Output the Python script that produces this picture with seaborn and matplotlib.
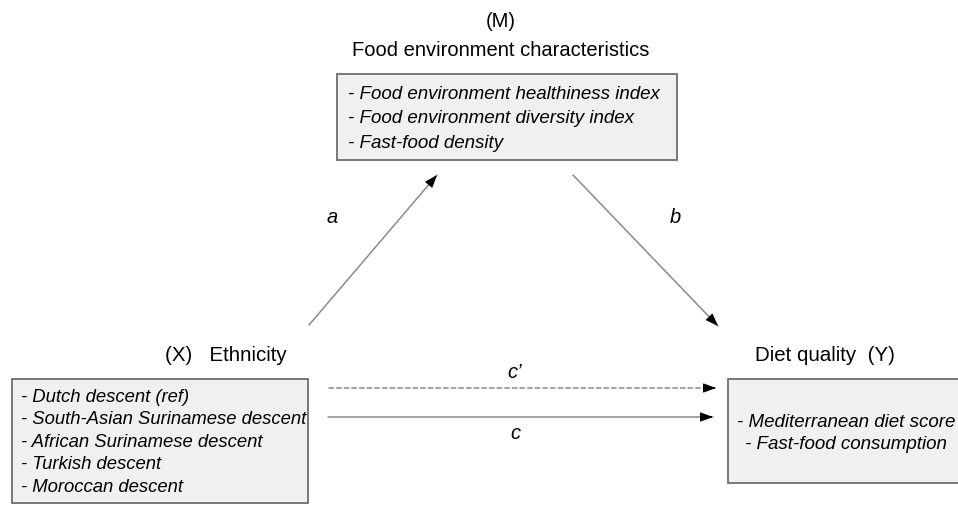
import matplotlib
matplotlib.use("Agg")
import matplotlib.pyplot as plt
import seaborn as sns
from matplotlib.patches import Rectangle

# Diagram content
mediator_tag = "(M)"
mediator_title = "Food environment characteristics"
mediator_items = ["- Food environment healthiness index",
                  "- Food environment diversity index",
                  "- Fast-food density"]
exposure_title = "(X)   Ethnicity"
exposure_items = ["- Dutch descent (ref)",
                  "- South-Asian Surinamese descent",
                  "- African Surinamese descent",
                  "- Turkish descent",
                  "- Moroccan descent"]
outcome_title = "Diet quality  (Y)"
outcome_items = ["- Mediterranean diet score",
                 "- Fast-food consumption"]
path_labels = ["a", "b", "c\u2019", "c"]

sns.set_theme(style="white")
plt.rcParams['font.family'] = ['Liberation Sans', 'DejaVu Sans']
plt.rcParams['text.color'] = 'black'

fig = plt.figure(figsize=(9.58, 5.05), dpi=100)
ax = fig.add_axes([0, 0, 1, 0.9999])
ax.set_xlim(0, 958)
ax.set_ylim(505, 0)
ax.axis('off')

box_face = '#f0f0f0'
box_edge = '#6e6e6e'
line_col = '#8a8a8a'

# boxes
ax.add_patch(Rectangle((337, 74), 340, 86, facecolor=box_face, edgecolor=box_edge, lw=1.3))
ax.add_patch(Rectangle((12, 379), 296, 124, facecolor=box_face, edgecolor=box_edge, lw=1.3))
ax.add_patch(Rectangle((728, 379), 240, 104, facecolor=box_face, edgecolor=box_edge, lw=1.3))

# titles
ax.text(501, 21, mediator_tag, ha='center', va='center', fontsize=14.5)
ax.text(501, 50, mediator_title, ha='center', va='center', fontsize=14.5)
ax.text(226, 355, exposure_title, ha='center', va='center', fontsize=14.8)
ax.text(825, 355, outcome_title, ha='center', va='center', fontsize=14.8)

# box contents
for i, t in enumerate(mediator_items):
    ax.text(348, 94 + i * 24.5, t, ha='left', va='center', fontsize=13.5, style='italic')
for i, t in enumerate(exposure_items):
    ax.text(21, 397 + i * 22.5, t, ha='left', va='center', fontsize=13.3, style='italic')
for i, t in enumerate(outcome_items):
    ax.text(846, 422 + i * 22, t, ha='center', va='center', fontsize=13.5, style='italic')


def arrow(start, end, ls='-'):
    ax.annotate('', xy=end, xytext=start,
                arrowprops=dict(arrowstyle='-', color=line_col, lw=1.1, ls=ls,
                                shrinkA=0, shrinkB=0))
    dx, dy = end[0] - start[0], end[1] - start[1]
    n = (dx ** 2 + dy ** 2) ** 0.5
    tail = (end[0] - dx / n * 3, end[1] - dy / n * 3)
    ax.annotate('', xy=end, xytext=tail,
                arrowprops=dict(arrowstyle='-|>,head_length=0.65,head_width=0.24',
                                color='black', lw=0.8, shrinkA=0, shrinkB=0))


arrow((309, 325), (437, 175))
arrow((573, 175), (718, 326))
arrow((329, 388), (716, 388), ls=(0, (3, 2)))
arrow((328, 417), (713, 417))

# path labels
ax.text(332, 217, path_labels[0], ha='center', va='center', fontsize=14.5, style='italic')
ax.text(675, 217, path_labels[1], ha='center', va='center', fontsize=14.5, style='italic')
ax.text(515, 372, path_labels[2], ha='center', va='center', fontsize=14.5, style='italic')
ax.text(515, 433, path_labels[3], ha='center', va='center', fontsize=14.5, style='italic')

fig.savefig('out.png', dpi=100, facecolor='white')
